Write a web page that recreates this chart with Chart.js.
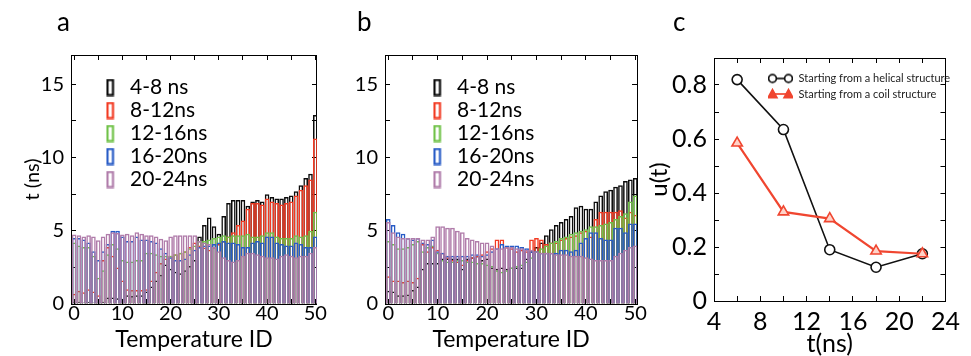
<!DOCTYPE html>
<html><head><meta charset="utf-8">
<script src="https://cdn.jsdelivr.net/npm/chart.js@4.4.0/dist/chart.umd.min.js"></script>
<style>
html,body{margin:0;padding:0;background:#fff;width:971px;height:356px;overflow:hidden;}
.p{position:absolute;top:0;height:356px;}
canvas{display:block;}
</style></head><body>
<div class="p" style="left:0;width:330px"><canvas id="ca" width="330" height="356"></canvas></div>
<div class="p" style="left:330px;width:320px"><canvas id="cb" width="320" height="356"></canvas></div>
<div class="p" style="left:645px;width:326px"><canvas id="cc" width="326" height="356"></canvas></div>
<script>
// ---------- data ----------
const temperatureIds = [0,1,2,3,4,5,6,7,8,9,10,11,12,13,14,15,16,17,18,19,20,21,22,23,24,25,26,27,28,29,30,31,32,33,34,35,36,37,38,39,40,41,42,43,44,45,46,47,48,49,50];
const seriesLabels = ['4-8 ns','8-12ns','12-16ns','16-20ns','20-24ns'];
const seriesColors = ['#0a0a0a','rgb(242,58,34)','rgb(112,194,72)','rgb(40,92,198)','rgb(176,124,170)'];

// panel a
const a_4_8   = [0.15,0.15,0.1,0.15,0.1,0.1,0.15,0.45,0.45,0.4,0.35,0.6,0.55,0.6,0.6,0.85,1.2,1.6,2.0,2.7,2.4,2.2,2.1,2.3,2.6,3.0,4.6,5.4,5.9,5.3,4.8,6.0,6.9,7.1,7.1,7.1,6.7,7.0,7.1,7.0,7.5,7.3,7.2,7.2,7.3,7.4,7.7,8.1,8.6,8.9,12.9];
const a_8_12  = [0.7,0.9,0.8,1.0,0.85,0.6,3.0,3.9,3.3,2.5,1.6,1.0,0.95,0.95,0.95,1.0,1.6,2.2,2.8,3.1,3.3,3.4,3.5,3.6,3.9,4.2,4.0,3.85,3.7,3.9,4.1,4.3,4.6,4.9,5.4,5.7,6.5,6.9,6.9,6.8,7.2,7.0,6.9,6.8,6.9,7.0,7.4,7.8,8.1,8.5,11.3];
const a_12_16 = [4.2,4.0,3.9,3.9,3.3,1.8,2.3,3.4,4.1,3.8,3.0,2.9,2.9,3.0,3.0,3.5,3.5,3.4,3.3,3.3,3.3,3.4,3.5,3.6,3.8,4.0,4.3,4.3,4.4,4.5,4.6,4.7,4.6,4.7,4.7,4.7,4.8,4.6,4.6,4.7,4.9,4.9,4.6,4.5,4.5,4.5,4.7,4.6,4.7,5.0,6.3];
const a_16_20 = [4.5,4.5,4.4,4.2,3.6,3.0,3.6,4.1,5.0,5.0,4.6,4.3,4.3,4.6,4.4,4.4,4.3,4.2,3.8,3.5,3.2,3.0,3.0,3.1,3.4,3.7,3.9,4.0,4.0,4.1,4.2,4.3,4.2,4.2,4.1,3.9,3.9,4.2,4.3,4.2,4.6,4.6,4.2,4.1,4.0,4.0,4.2,4.1,3.9,3.9,4.6];
const a_20_24 = [4.75,4.7,4.6,4.7,4.6,4.35,4.6,4.8,4.9,4.85,4.75,4.8,4.7,4.9,4.8,4.7,4.7,4.6,4.45,4.35,4.6,4.7,4.7,4.7,4.7,4.7,4.3,4.2,4.1,3.9,3.6,3.2,3.0,2.9,3.0,3.3,3.5,3.5,3.4,3.3,3.2,3.2,3.1,3.3,3.4,3.3,3.2,3.3,3.3,3.5,3.9];

// panel b
const b_4_8   = [0.9,0.85,0.6,0.6,0.65,0.95,1.2,2.4,2.8,2.8,2.8,3.1,3.1,3.1,3.1,2.4,3.1,3.2,3.3,3.0,3.1,2.5,2.4,2.5,2.4,2.5,2.5,2.5,3.1,3.6,3.9,4.2,4.7,5.1,5.4,5.6,5.8,6.0,6.6,6.7,6.5,6.5,7.0,7.4,7.7,7.8,8.0,8.1,8.4,8.5,8.6];
const b_8_12  = [1.9,1.6,1.6,1.5,1.6,1.5,1.8,4.1,3.6,3.9,3.7,3.5,3.2,3.0,2.9,2.7,3.0,3.2,3.3,3.4,3.6,3.8,4.4,4.4,3.9,3.8,3.6,3.7,3.6,4.4,4.5,4.4,4.1,4.2,4.2,4.4,4.5,4.6,4.7,4.9,5.0,4.6,5.8,6.3,6.3,6.3,6.3,6.4,5.9,6.3,6.1];
const b_12_16 = [4.3,4.1,3.8,3.8,3.9,4.1,4.3,3.6,3.9,4.0,3.5,3.0,2.9,2.9,3.0,3.0,2.9,2.9,2.8,2.8,2.7,2.6,2.3,2.2,2.3,2.5,2.6,2.7,2.9,3.2,3.6,3.8,4.0,4.2,4.3,4.5,4.6,4.8,4.9,5.0,5.1,5.3,5.3,5.4,5.5,5.6,5.8,6.0,6.2,7.0,7.4];
const b_16_20 = [5.8,5.4,4.9,4.8,4.5,4.4,4.5,4.2,4.1,4.4,3.6,3.5,3.3,3.3,3.3,3.3,3.3,3.4,3.4,3.3,3.4,3.6,3.8,4.1,4.0,4.0,4.0,3.9,3.8,3.6,3.6,3.5,3.5,3.5,3.5,3.7,3.7,3.6,3.7,4.2,4.5,4.9,4.9,4.5,4.4,4.4,5.2,5.2,4.9,5.5,5.5];
const b_20_24 = [5.6,4.9,4.6,4.5,4.5,4.5,4.5,4.4,4.4,4.6,5.3,5.3,5.2,5.2,5.0,4.9,4.5,4.4,4.3,4.2,4.2,4.0,3.8,3.8,3.9,3.9,3.8,3.8,3.7,3.7,3.6,3.5,3.5,3.5,3.4,3.4,3.4,3.3,3.3,3.3,3.2,3.1,3.0,3.0,3.0,3.0,3.3,3.5,3.7,3.9,4.0];

// panel c
const tNs = [6,10,14,18,22];
const uHelical = [0.82,0.635,0.19,0.125,0.175];
const uCoil = [0.585,0.33,0.305,0.185,0.175];
const cLabels = ['Starting from a helical structure','Starting from a coil structure'];

// tick values
const idTicks = [0,5,10,15,20,25,30,35,40,45,50];
const tTicks = [0,2.5,5,7.5,10,12.5,15];
const nsTicks = [4,6,8,10,12,14,16,18,20,22,24];
const uTicks = [0,0.1,0.2,0.3,0.4,0.5,0.6,0.7,0.8,0.9];

// ---------- helpers ----------
Chart.defaults.font.family = "Lato, 'Open Sans', sans-serif";
Chart.defaults.color = '#000';

const placeBlocks = {
  id: 'placeBlocks',
  afterLayout(chart, args, opts) {
    const ca = chart.chartArea;
    const lg = chart.legend;
    if (lg && opts.legend) {
      const w = lg.width + 60, h = lg.height;
      lg.left = ca.left + opts.legend.x; lg.right = lg.left + w;
      lg.top = ca.top + opts.legend.y; lg.bottom = lg.top + h;
    }
    const tb = chart.titleBlock;
    if (tb && opts.titleX !== undefined) {
      const w = tb.right - tb.left;
      tb.left = opts.titleX; tb.right = tb.left + w;
    }
  }
};

function barGlyph(color) {
  const c = document.createElement('canvas'); c.width = 14; c.height = 18;
  const g = c.getContext('2d'); g.strokeStyle = color; g.lineWidth = 2.2;
  g.strokeRect(2, 1.5, 5.5, 15);
  return c;
}
function lineGlyph(color, shape) {
  const c = document.createElement('canvas'); c.width = 25; c.height = 12;
  const g = c.getContext('2d'); g.strokeStyle = color; g.lineWidth = 1.7;
  g.beginPath(); g.moveTo(4.5, 6); g.lineTo(20.5, 6); g.stroke();
  g.fillStyle = '#fff';
  [4.5, 20.5].forEach(cx => {
    g.beginPath();
    if (shape === 'circle') { g.arc(cx, 6, 3.9, 0, Math.PI * 2); }
    else { g.moveTo(cx, 1.6); g.lineTo(cx + 4.4, 9.7); g.lineTo(cx - 4.4, 9.7); g.closePath(); g.fillStyle = color; }
    g.fill(); g.stroke();
  });
  return c;
}

const tickGrid = {drawOnChartArea:false, tickLength:-5, tickColor:'#000', tickWidth:1, offset:false};
const border = {display:true, color:'#000', width:1};

function barChart(id, values, yWidth, yTitle, titleText, titleX, legendX) {
  const datasets = values.map((vals, k) => ({
    label: seriesLabels[k],
    data: temperatureIds.map((t, i) => ({x: t, y: vals[i]})),
    borderColor: seriesColors[k],
    backgroundColor: 'rgba(0,0,0,0)',
    borderWidth: 1.5,
    borderSkipped: 'start',
    grouped: false,
    categoryPercentage: 1,
    barPercentage: 0.96,
    order: values.length - k
  }));
  const xCommon = {type:'linear', min:-0.65, max:50.35, offset:false, grid:tickGrid, border:border,
    afterBuildTicks: s => { s.ticks = idTicks.map(v => ({value:v})); }};
  const yCommon = {type:'linear', min:0, max:17, grid:tickGrid, border:border,
    afterBuildTicks: s => { s.ticks = tTicks.map(v => ({value:v})); }};
  return new Chart(document.getElementById(id), {
    type: 'bar',
    data: {datasets},
    options: {
      responsive:false, animation:false, devicePixelRatio:1, events:[],
      layout:{padding:{left:0, right:0, top:0, bottom:0}},
      scales: {
        x: Object.assign({}, xCommon, {position:'bottom',
          ticks:{autoSkip:false, maxRotation:0, padding:3, font:{size:20}, color:'#000',
            callback: v => (v % 10 === 0 ? String(v) : '')},
          title:{display:true, text:'Temperature ID', font:{size:23, lineHeight:1}, color:'#000', padding:{top:0, bottom:5}},
          afterFit: s => { s.height = 52; }}),
        x2: Object.assign({}, xCommon, {position:'top', ticks:{display:false}, afterFit: s => { s.height = 0; }}),
        y: Object.assign({}, yCommon, {position:'left',
          ticks:{autoSkip:false, padding:12, font:{size:20}, color:'#000',
            callback: v => (v % 5 === 0 ? String(v) : '')},
          title:{display:!!yTitle, text:yTitle || '', font:{size:20, lineHeight:1}, color:'#000', padding:{top:23, bottom:0}},
          afterFit: s => { s.width = yWidth; }}),
        y2: Object.assign({}, yCommon, {position:'right', ticks:{display:false}, afterFit: s => { s.width = 0; }})
      },
      plugins: {
        tooltip:{enabled:false},
        title:{display:true, text:titleText, align:'start', color:'#000', font:{size:26, weight:'normal', lineHeight:1.2}, padding:{top:7, bottom:16.8}},
        legend:{display:true, position:'chartArea', align:'start',
          labels:{usePointStyle:true, pointStyleWidth:14, padding:2, font:{size:21}, color:'#000',
            generateLabels: ch => ch.data.datasets.map((ds, i) => ({
              text: ds.label, pointStyle: barGlyph(ds.borderColor), fillStyle:'rgba(0,0,0,0)',
              strokeStyle: ds.borderColor, lineWidth:0, hidden:false, datasetIndex:i, fontColor:'#000'}))}},
        placeBlocks:{legend:{x:legendX, y:20}, titleX:titleX}
      }
    },
    plugins:[placeBlocks]
  });
}

barChart('ca', [a_4_8, a_8_12, a_12_16, a_16_20, a_20_24], 71, 't (ns)', 'a', 57, 32.5);
barChart('cb', [b_4_8, b_8_12, b_12_16, b_16_20, b_20_24], 55, null, 'b', 27, 45.5);

// panel c
new Chart(document.getElementById('cc'), {
  type: 'line',
  data: {datasets: [
    {label:cLabels[0], data: tNs.map((t, i) => ({x:t, y:uHelical[i]})), borderColor:'#111', backgroundColor:'#fff',
     borderWidth:1.6, pointStyle:'circle', pointRadius:5, pointBorderWidth:1.6, pointBackgroundColor:'#fff', pointBorderColor:'#111', order:2, tension:0},
    {label:cLabels[1], data: tNs.map((t, i) => ({x:t, y:uCoil[i]})), borderColor:'rgb(240,70,48)', backgroundColor:'rgb(240,70,48)',
     borderWidth:2.2, pointStyle:'triangle', pointRadius:6, pointBorderWidth:1.6, pointBackgroundColor:'rgba(255,210,200,1)', pointBorderColor:'rgb(240,70,48)', order:1, tension:0}
  ]},
  options: {
    responsive:false, animation:false, devicePixelRatio:1, events:[],
    layout:{padding:{left:0, right:7, top:0, bottom:0}},
    scales: {
      x: {type:'linear', position:'bottom', min:4, max:24, grid:tickGrid, border:border,
        afterBuildTicks: s => { s.ticks = nsTicks.map(v => ({value:v})); },
        ticks:{autoSkip:false, maxRotation:0, padding:11, font:{size:25}, color:'#000', callback: v => (v % 4 === 0 ? String(v) : '')},
        title:{display:true, text:'t(ns)', font:{size:25, lineHeight:1}, color:'#000', padding:{top:0, bottom:0}},
        afterFit: s => { s.height = 55; }},
      x2: {type:'linear', position:'top', min:4, max:24, grid:tickGrid, border:border, ticks:{display:false},
        afterBuildTicks: s => { s.ticks = nsTicks.map(v => ({value:v})); }, afterFit: s => { s.height = 0; }},
      y: {type:'linear', position:'left', min:0, max:0.9, grid:tickGrid, border:border,
        afterBuildTicks: s => { s.ticks = uTicks.map(v => ({value:v})); },
        ticks:{autoSkip:false, padding:12, font:{size:25}, color:'#000',
          callback: v => { const k = Math.round(v * 10); if (k % 2 !== 0 || k > 8) return ''; return k === 0 ? '0' : (k / 10).toFixed(1); }},
        title:{display:true, text:'u(t)', font:{size:24, lineHeight:1}, color:'#000', padding:{top:2, bottom:0}},
        afterFit: s => { s.width = 69; }},
      y2: {type:'linear', position:'right', min:0, max:0.9, grid:tickGrid, border:border, ticks:{display:false},
        afterBuildTicks: s => { s.ticks = uTicks.map(v => ({value:v})); }, afterFit: s => { s.width = 0; }}
    },
    plugins: {
      tooltip:{enabled:false},
      title:{display:true, text:'c', align:'start', color:'#000', font:{size:26, weight:'normal', lineHeight:1.2}, padding:{top:7, bottom:19.8}},
      legend:{display:true, position:'chartArea', align:'start',
        labels:{usePointStyle:true, pointStyleWidth:25, padding:4.5, font:{size:11}, color:'#222',
          generateLabels: ch => ch.data.datasets.map((ds, i) => ({
            text: ds.label, pointStyle: lineGlyph(ds.borderColor, i === 0 ? 'circle' : 'triangle'),
            fillStyle:'rgba(0,0,0,0)', strokeStyle: ds.borderColor, lineWidth:0, hidden:false, datasetIndex:i, fontColor:'#222'}))}},
      placeBlocks:{legend:{x:49.5, y:10.5}, titleX:28}
    }
  },
  plugins:[placeBlocks]
});
</script>
</body></html>
